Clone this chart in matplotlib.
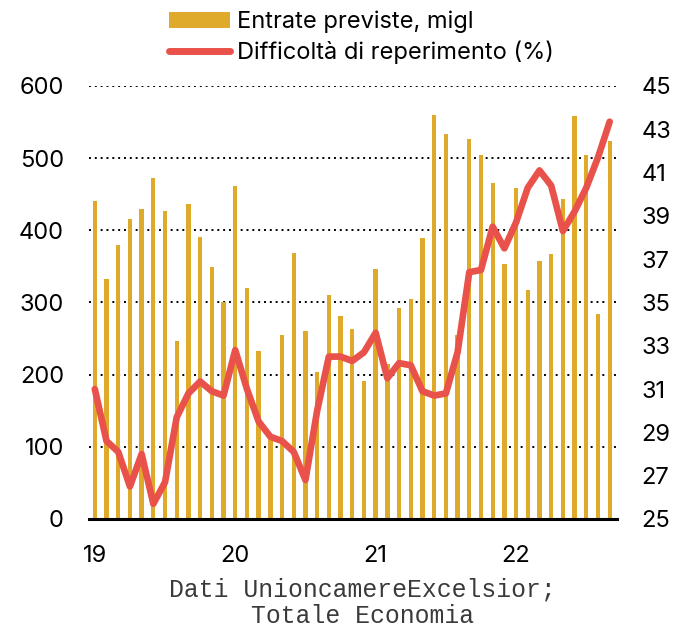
import matplotlib
matplotlib.use("Agg")
import matplotlib.pyplot as plt
from matplotlib.patches import Patch
from matplotlib.lines import Line2D

plt.rcParams['font.family'] = ['Inter', 'DejaVu Sans']

# monthly data, Jan 2019 - Sep 2022
entrate = [441, 333, 380, 415, 430, 473, 427, 246, 436, 391, 349, 301,
           461, 320, 233, 112, 255, 368, 261, 203, 310, 281, 263, 191,
           346, 215, 292, 305, 389, 560, 534, 255, 526, 505, 465, 353,
           458, 317, 358, 367, 444, 559, 505, 284, 524]
difficolta = [31.0, 28.6, 28.1, 26.5, 28.0, 25.7, 26.7, 29.7, 30.8, 31.35, 30.9, 30.7,
              32.8, 31.0, 29.5, 28.8, 28.6, 28.1, 26.8, 30.0, 32.5, 32.5, 32.3, 32.7,
              33.6, 31.5, 32.2, 32.1, 30.9, 30.7, 30.8, 32.7, 36.4, 36.5, 38.5, 37.5,
              38.7, 40.3, 41.1, 40.4, 38.3, 39.2, 40.3, 41.7, 43.35]
year_labels = ['19', '20', '21', '22']

bar_color = '#DFAA2A'
line_color = '#E8524A'

x = list(range(len(entrate)))

fig = plt.figure(figsize=(6.74, 6.28), dpi=100)
ax = fig.add_axes([0.132, 0.1736, 0.783, 0.6895])

ax.bar(x, entrate, width=0.37, color=bar_color, zorder=2)
ax.set_ylim(0, 600)
ax.set_yticks(range(0, 601, 100))
ax.set_xlim(-0.5, 44.6)
ax.set_xticks([0, 12, 24, 36])
ax.set_xticklabels(year_labels)

for s in ['top', 'left', 'right']:
    ax.spines[s].set_visible(False)
ax.spines['bottom'].set_linewidth(2.2)
ax.spines['bottom'].set_color('black')
ax.spines['bottom'].set_zorder(5)
ax.yaxis.grid(True, linestyle=(0, (1, 2)), color='black', linewidth=1.4, zorder=1)
ax.set_axisbelow(True)
ax.tick_params(axis='both', length=0, labelsize=17)
ax.tick_params(axis='y', pad=18)
ax.tick_params(axis='x', pad=19)

ax2 = ax.twinx()
ax2.plot(x, difficolta, color=line_color, linewidth=4.8, solid_capstyle='round',
         solid_joinstyle='round', zorder=3)
ax2.set_ylim(25, 45)
ax2.set_yticks(range(25, 46, 2))
for s in ['top', 'left', 'right', 'bottom']:
    ax2.spines[s].set_visible(False)
ax2.tick_params(axis='y', length=0, labelsize=17, pad=18)

handles = [Patch(facecolor=bar_color, edgecolor='none'),
           Line2D([0], [0], color=line_color, linewidth=5, solid_capstyle='round')]
fig.legend(handles, ['Entrate previste, migl', 'Difficoltà di reperimento (%)'],
           loc='upper left', bbox_to_anchor=(0.226, 1.009), frameon=False,
           fontsize=17, handlelength=2.6, handletextpad=0.3, labelspacing=0.3,
           borderaxespad=0.3)

fig.text(0.538, 0.040, 'Dati UnioncamereExcelsior;\nTotale Economia', ha='center',
         va='center', family='Liberation Mono', fontsize=17.8, color='#3a3a3a',
         linespacing=1.15)

fig.savefig('out.png', dpi=100)
